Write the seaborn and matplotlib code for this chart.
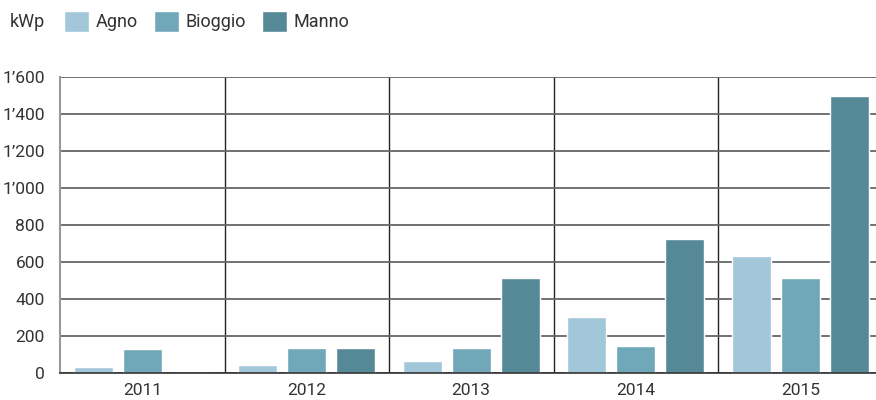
import matplotlib
matplotlib.use("Agg")
import matplotlib.pyplot as plt
import pandas as pd
import seaborn as sns

years = ["2011", "2012", "2013", "2014", "2015"]
communes = ["Agno", "Bioggio", "Manno"]
agno = [32, 43, 65, 304, 632]
bioggio = [130, 135, 135, 146, 513]
manno = [0, 135, 513, 724, 1500]
y_ticks = [0, 200, 400, 600, 800, 1000, 1200, 1400, 1600]
y_labels = ["0", "200", "400", "600", "800", "1’000", "1’200", "1’400", "1’600"]
colors = ["#a3c7da", "#70a8b9", "#568998"]

df = pd.DataFrame({
    "year": years * 3,
    "commune": [c for c in communes for _ in years],
    "kwp": agno + bioggio + manno,
})

sns.set_theme(style="white")
plt.rcParams["font.family"] = ["Roboto", "DejaVu Sans"]

fig = plt.figure(figsize=(8.76, 4.0), dpi=100)
ax = fig.add_axes([60 / 876, 27 / 400, 822.5 / 876, 296 / 400])

sns.barplot(data=df, x="year", y="kwp", hue="commune", order=years,
            hue_order=communes, palette=colors, width=0.894, gap=0.2,
            saturation=1, ax=ax)

ax.set_xlim(-0.5, 4.5)
ax.set_ylim(0, 1600)
ax.set_yticks(y_ticks)
ax.set_yticklabels(y_labels)
ax.set_xlabel("")
ax.set_ylabel("")
ax.tick_params(axis="both", length=0, colors="#333333")
ax.tick_params(axis="y", pad=11, labelsize=12.5)
ax.tick_params(axis="x", pad=7, labelsize=12.5)

ax.yaxis.grid(True, color="#666666", linewidth=1.3)
ax.set_axisbelow(True)
for x in [0.5, 1.5, 2.5, 3.5]:
    ax.axvline(x, color="#222222", linewidth=1, zorder=0.5)

for side in ["top", "right"]:
    ax.spines[side].set_visible(False)
ax.spines["left"].set_color("#999999")
ax.spines["left"].set_linewidth(1.5)
ax.spines["bottom"].set_color("#333333")
ax.spines["bottom"].set_linewidth(1.2)

sns.move_legend(ax, "upper left", bbox_to_anchor=(53 / 876, 1.0),
                bbox_transform=fig.transFigure, ncol=3, frameon=False,
                title=None, fontsize=13, handlelength=1.4, handleheight=1.4,
                handletextpad=0.35, columnspacing=0.9, borderaxespad=0.2)
for t in ax.get_legend().get_texts():
    t.set_color("#333333")

fig.text(10 / 876, 1 - 22 / 400, "kWp", fontsize=13, color="#333333",
         va="center", ha="left")

fig.savefig("out.png", dpi=100)
